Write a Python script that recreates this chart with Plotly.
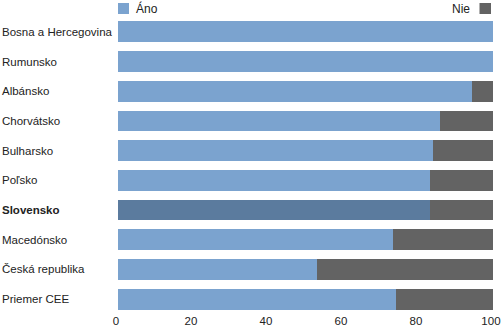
import plotly.graph_objects as go

countries = ["Bosna a Hercegovina", "Rumunsko", "Albánsko", "Chorvátsko", "Bulharsko",
             "Poľsko", "Slovensko", "Macedónsko", "Česká republika", "Priemer CEE"]
ano = [100, 100, 94.4, 86, 84, 83.2, 83.2, 73.3, 53.2, 74.2]
nie = [0, 0, 5.6, 14, 16, 16.8, 16.8, 26.7, 46.8, 25.8]
x_ticks = [0, 20, 40, 60, 80, 100]

BLUE = "#7BA3CF"
BLUE_HL = "#5B7B9E"
GRAY = "#636363"
FONT = "Liberation Sans Narrow, Arial Narrow, Liberation Sans, sans-serif"

W, H = 501, 328
ML, MR, MT, MB = 118, 8, 17, 14
PW, PH = W - ML - MR, H - MT - MB

ano_colors = [BLUE_HL if c == "Slovensko" else BLUE for c in countries]

fig = go.Figure()
fig.add_trace(go.Bar(y=countries, x=ano, orientation="h", name="Áno",
                     marker=dict(color=ano_colors, line=dict(width=0))))
fig.add_trace(go.Bar(y=countries, x=nie, orientation="h", name="Nie",
                     marker=dict(color=GRAY, line=dict(width=0))))

# left-aligned country labels
for c in countries:
    txt = f"<b>{c}</b>" if c == "Slovensko" else c
    fig.add_annotation(x=-ML / PW, xref="paper", y=c, yref="y", text=txt,
                       xanchor="left", yanchor="middle", showarrow=False,
                       font=dict(family=FONT, size=11.5, color="#222"))

# legend drawn in pixel units above the plot
def px_x(p):
    return (p - ML) / PW

def px_y(p):
    return 1 + (MT - p) / PH

fig.add_shape(type="rect", xref="paper", yref="paper",
              x0=px_x(118), x1=px_x(129), y0=px_y(14), y1=px_y(3),
              fillcolor=BLUE, line=dict(width=0))
fig.add_annotation(x=px_x(134), y=px_y(8.5), xref="paper", yref="paper", text="Áno",
                   xanchor="left", yanchor="middle", showarrow=False,
                   font=dict(family=FONT, size=12, color="#222"))
fig.add_shape(type="rect", xref="paper", yref="paper",
              x0=px_x(479.5), x1=px_x(491), y0=px_y(14), y1=px_y(3),
              fillcolor=GRAY, line=dict(width=0))
fig.add_annotation(x=px_x(472), y=px_y(8.5), xref="paper", yref="paper", text="Nie",
                   xanchor="right", yanchor="middle", showarrow=False,
                   font=dict(family=FONT, size=12, color="#222"))

fig.update_layout(
    width=W, height=H, barmode="stack", bargap=0.3,
    margin=dict(l=ML, r=MR, t=MT, b=MB, autoexpand=False),
    plot_bgcolor="white", paper_bgcolor="white",
    showlegend=False,
    font=dict(family=FONT, size=12, color="#222"),
    xaxis=dict(range=[0, 100.02], tickvals=x_ticks, showgrid=False, zeroline=False,
               showline=False, ticks="", ticklabelstandoff=-2, ticklabelshift=-2,
               automargin=False, ticklabeloverflow="allow",
               tickfont=dict(family=FONT, size=11.5, color="#222")),
    yaxis=dict(autorange="reversed", showticklabels=False, showgrid=False,
               zeroline=False, showline=False, ticks="", automargin=False),
)

fig.write_html("out.html")
